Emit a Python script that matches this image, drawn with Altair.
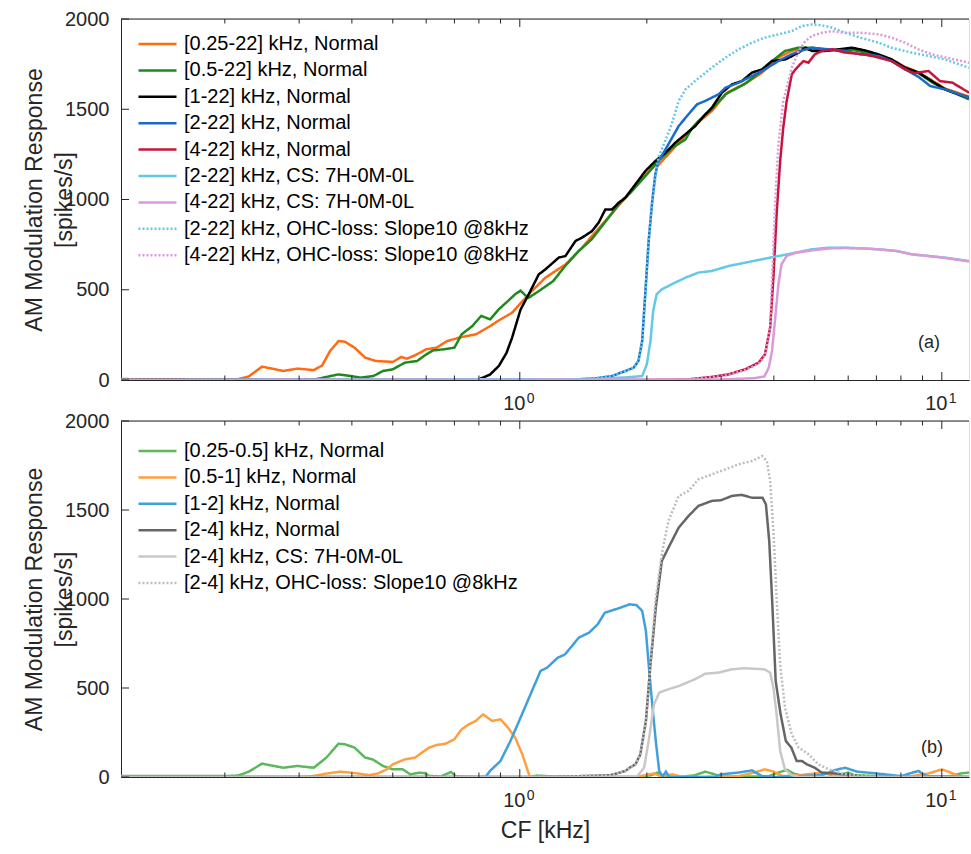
import altair as alt
import pandas as pd

FONT = "Liberation Sans"
TXT = "#262626"
X_DOMAIN = [0.1135, 11.6]
Y_DOMAIN = [0, 2000]
W = 848
H_A = 361
H_B = 356

# ---------------- Panel (a) ----------------
A_NAMES = [
    "[0.25-22] kHz, Normal",
    "[0.5-22] kHz, Normal",
    "[1-22] kHz, Normal",
    "[2-22] kHz, Normal",
    "[4-22] kHz, Normal",
    "[2-22] kHz, CS: 7H-0M-0L",
    "[4-22] kHz, CS: 7H-0M-0L",
    "[2-22] kHz, OHC-loss: Slope10 @8kHz",
    "[4-22] kHz, OHC-loss: Slope10 @8kHz",
]
A_COLORS = ["#FF6A13", "#1E8A1E", "#000000", "#1B6AC9", "#C8143C",
            "#62C9E6", "#DA9ADA", "#62C9E6", "#DA9ADA"]
A_WIDTHS = [2.5, 2.5, 2.5, 2.5, 2.5, 1.1, 1.1, 1.8, 1.8]
A_DASHES = [[1, 0]] * 7 + [[2, 2], [2, 2]]

a_orange_cf = [0.1135, 0.15, 0.2, 0.215, 0.228, 0.245, 0.26, 0.275, 0.297, 0.325, 0.34, 0.355, 0.372, 0.385,
               0.406, 0.43, 0.456, 0.484, 0.5, 0.523, 0.54, 0.565, 0.6, 0.635, 0.673, 0.728, 0.787, 0.851,
               0.892, 0.959, 1.05, 1.15, 1.283, 1.405, 1.483, 1.62, 1.779, 1.91, 2.095, 2.13, 2.34, 2.61,
               2.85, 3.1, 3.45, 3.75, 4.1, 4.4, 4.58, 4.92, 5.3, 5.7, 6.12, 6.58, 7.08, 7.61, 8.18, 8.81,
               9.47, 10.18, 10.95, 11.6]
a_orange_v = [5, 4, 3, 5, 20, 74, 62, 50, 63, 55, 80, 160, 216, 212,
              179, 124, 105, 102, 100, 127, 118, 137, 170, 179, 216, 238, 253, 299,
              330, 373, 475, 567, 640, 733, 798, 899, 1010, 1093, 1195, 1190, 1296, 1416,
              1490, 1592, 1647, 1703, 1786, 1823, 1832, 1830, 1825, 1830, 1835, 1820, 1800, 1775, 1735, 1705,
              1660, 1615, 1590, 1570]

a_green_cf = [0.1135, 0.3, 0.33, 0.348, 0.372, 0.39, 0.42, 0.45, 0.474, 0.5, 0.534, 0.571, 0.6, 0.623, 0.66,
              0.7, 0.728, 0.772, 0.81, 0.851, 0.892, 0.938, 0.975, 1.004, 1.03, 1.05, 1.11, 1.2, 1.28, 1.38,
              1.48, 1.6, 1.715, 1.83, 1.985, 2.13, 2.3, 2.47, 2.55, 2.65, 2.85, 3.07, 3.4, 3.75, 3.96, 4.25,
              4.58, 4.92, 5.3, 5.7, 6.12, 6.58, 7.08, 7.61, 8.18, 8.81, 9.47, 10.18, 10.95, 11.6]
a_green_v = [0, 0, 5, 17, 31, 25, 13, 22, 50, 59, 96, 105, 142, 164, 170,
             179, 253, 299, 355, 336, 392, 438, 475, 495, 470, 456, 493, 548, 631, 715,
             779, 881, 973, 1038, 1130, 1213, 1287, 1333, 1389, 1435, 1500, 1583, 1638, 1712, 1767, 1823,
             1841, 1841, 1830, 1825, 1830, 1815, 1795, 1770, 1730, 1700, 1650, 1610, 1580, 1555]

a_black_cf = [0.1135, 0.78, 0.80, 0.85, 0.892, 0.93, 0.959, 1.004, 1.05, 1.109, 1.15, 1.237, 1.283, 1.355,
              1.405, 1.483, 1.538, 1.595, 1.654, 1.715, 1.779, 1.879, 1.985, 2.095, 2.213, 2.337, 2.467,
              2.606, 2.752, 2.853, 3.013, 3.184, 3.36, 3.55, 3.75, 3.958, 4.256, 4.576, 4.747, 4.922, 5.294,
              5.69, 6.12, 6.58, 7.08, 7.61, 8.18, 8.81, 9.47, 10.18, 10.95, 11.6]
a_black_v = [0, 0, 4, 30, 78, 150, 235, 390, 475, 585, 613, 678, 687, 770,
             789, 825, 872, 945, 945, 982, 1010, 1084, 1158, 1213, 1259, 1315, 1361,
             1407, 1472, 1509, 1592, 1638, 1656, 1703, 1721, 1767, 1776, 1813, 1841, 1823, 1823,
             1832, 1841, 1826, 1804, 1776, 1730, 1703, 1656, 1610, 1583, 1564]

a_blue_cf = [0.1135, 1.3, 1.51, 1.654, 1.779, 1.86, 1.91, 1.95, 1.985, 2.02, 2.06, 2.095, 2.13, 2.18, 2.25,
             2.38, 2.51, 2.63, 2.75, 2.85, 2.96, 3.07, 3.3, 3.55, 3.81, 4.1, 4.4, 4.66, 4.92, 5.4, 5.9, 6.4,
             7.08, 7.6, 8.2, 8.8, 9.4, 10.18, 11.6]
a_blue_v = [0, 0, 9, 22, 50, 68, 105, 216, 493, 770, 992, 1139, 1213, 1250, 1306,
            1407, 1472, 1527, 1546, 1564, 1583, 1619, 1647, 1684, 1721, 1767, 1804, 1826, 1841, 1832, 1823, 1804,
            1795, 1767, 1721, 1680, 1628, 1610, 1564]

a_red_cf = [0.1135, 2.0, 2.5, 2.85, 3.12, 3.42, 3.68, 3.81, 3.92, 3.99, 4.06, 4.14, 4.21, 4.29, 4.41, 4.5,
            4.58, 4.7, 4.83, 5.0, 5.2, 5.5, 5.9, 6.58, 7.08, 7.6, 8.18, 8.6, 9.3, 9.9, 10.6, 11.6]
a_red_v = [0, 0, 3, 17, 31, 59, 96, 142, 290, 567, 918, 1213, 1398, 1546, 1693, 1721,
           1740, 1767, 1758, 1804, 1823, 1832, 1814, 1804, 1786, 1767, 1721, 1700, 1712, 1656, 1647, 1592]

a_cs2_cf = [0.1135, 1.5, 1.8, 1.95, 2.0, 2.04, 2.07, 2.11, 2.17, 2.29, 2.47, 2.65, 2.85, 3.13, 3.42, 3.75,
            4.1, 4.5, 4.92, 5.4, 5.9, 6.5, 7.08, 7.8, 8.5, 9.3, 10.18, 11.6]
a_cs2_v = [0, 5, 15, 22, 87, 216, 382, 475, 502, 530, 567, 595, 604, 632, 650, 669,
           687, 705, 724, 733, 733, 729, 724, 715, 696, 687, 678, 659]

a_cs4_cf = [0.1135, 3.0, 3.6, 3.8, 3.89, 3.96, 4.03, 4.1, 4.17, 4.29, 4.5, 4.92, 5.4, 5.9, 6.5, 7.08, 7.8,
            8.5, 9.3, 10.18, 11.6]
a_cs4_v = [0, 3, 10, 20, 68, 161, 345, 530, 641, 687, 705, 718, 729, 731, 729, 724, 715,
           696, 687, 676, 657]

a_ohc2_cf = [0.1135, 1.3, 1.51, 1.654, 1.779, 1.86, 1.91, 1.95, 1.985, 2.02, 2.06, 2.13, 2.21, 2.29, 2.38,
             2.47, 2.6, 2.85, 3.07, 3.3, 3.55, 3.81, 4.1, 4.41, 4.66, 4.92, 5.2, 5.5, 5.9, 6.4, 7.08, 7.6,
             8.5, 9.3, 10.18, 11.6]
a_ohc2_v = [0, 0, 9, 22, 50, 68, 105, 216, 493, 770, 1000, 1232, 1324, 1416, 1546,
            1610, 1656, 1730, 1786, 1832, 1869, 1897, 1915, 1933, 1961, 1970, 1965, 1952, 1924, 1897, 1869, 1841,
            1813, 1795, 1776, 1730]

a_ohc4_cf = [0.1135, 2.0, 2.5, 2.85, 3.12, 3.42, 3.68, 3.81, 3.92, 3.96, 4.03, 4.1, 4.21, 4.41, 4.58, 4.75,
             4.92, 5.2, 5.5, 5.9, 6.4, 7.08, 7.6, 8.18, 8.8, 9.47, 11.6]
a_ohc4_v = [0, 0, 3, 15, 28, 55, 90, 135, 290, 560, 992, 1306, 1546, 1730, 1823, 1878,
            1906, 1924, 1933, 1924, 1924, 1915, 1897, 1869, 1832, 1804, 1758]

A_CF = [a_orange_cf, a_green_cf, a_black_cf, a_blue_cf, a_red_cf, a_cs2_cf, a_cs4_cf, a_ohc2_cf, a_ohc4_cf]
A_V = [a_orange_v, a_green_v, a_black_v, a_blue_v, a_red_v, a_cs2_v, a_cs4_v, a_ohc2_v, a_ohc4_v]

# ---------------- Panel (b) ----------------
B_NAMES = [
    "[0.25-0.5] kHz, Normal",
    "[0.5-1] kHz, Normal",
    "[1-2] kHz, Normal",
    "[2-4] kHz, Normal",
    "[2-4] kHz, CS: 7H-0M-0L",
    "[2-4] kHz, OHC-loss: Slope10 @8kHz",
]
B_COLORS = ["#5CB85C", "#FFA040", "#41A0DA", "#666666", "#C8C8C8", "#BDBDBD"]
B_WIDTHS = [2.5, 2.5, 2.5, 2.5, 1.1, 1.5]
B_DASHES = [[1, 0]] * 5 + [[2, 2]]

b_green_cf = [0.1135, 0.2, 0.215, 0.228, 0.245, 0.275, 0.297, 0.325, 0.348, 0.372, 0.385, 0.406, 0.43, 0.448,
              0.474, 0.5, 0.528, 0.55, 0.577, 0.595, 0.61, 0.65, 0.687, 0.707, 0.8, 1.05, 1.1, 1.2, 1.5, 1.9,
              2.05, 2.12, 2.2, 2.4, 2.6, 2.75, 2.85, 3.0, 3.6, 3.9, 4.1, 4.3, 4.45, 4.7, 5.0, 5.3, 5.6, 6.0,
              6.2, 7.0, 8.0, 10.5, 11.1, 11.6]
b_green_v = [5, 5, 8, 30, 75, 52, 62, 52, 109, 187, 184, 165, 109, 99,
             62, 43, 43, 15, 24, 22, 6, 3, 28, 3, 0, 0, 8, 3, 0, 3,
             10, 25, 5, 0, 10, 30, 20, 3, 3, 5, 25, 40, 20, 5, 15, 20, 5, 25,
             10, 5, 3, 5, 20, 25]

b_orange_cf = [0.1135, 0.3, 0.32, 0.348, 0.375, 0.4, 0.44, 0.46, 0.484, 0.5, 0.534, 0.565, 0.586, 0.61, 0.635,
               0.667, 0.7, 0.728, 0.757, 0.787, 0.818, 0.86, 0.9, 0.938, 0.975, 1.014, 1.054, 1.1, 1.9, 2.0,
               2.08, 2.15, 2.3, 2.4, 2.7, 3.3, 3.6, 3.8, 4.0, 4.2, 4.6, 5.0, 5.3, 5.6, 6.5, 7.5, 8.5, 9.3,
               10.0, 10.5, 11.0, 11.6]
b_orange_v = [0, 0, 3, 19, 30, 24, 11, 19, 43, 71, 99, 109, 137, 165, 180,
              187, 212, 268, 296, 315, 352, 315, 324, 277, 221, 127, 6, 0, 0, 12,
              20, 5, 15, 3, 0, 5, 25, 43, 30, 5, 10, 20, 25, 10, 3, 0, 5, 20,
              43, 25, 3, 0]

b_blue_cf = [0.1135, 0.8, 0.83, 0.85, 0.9, 0.95, 1.004, 1.06, 1.12, 1.16, 1.23, 1.28, 1.38, 1.46, 1.53, 1.59,
             1.64, 1.73, 1.82, 1.89, 1.95, 1.99, 2.02, 2.06, 2.1, 2.14, 2.18, 2.22, 2.26, 2.9, 3.0, 3.3, 3.55,
             3.75, 4.0, 5.2, 5.6, 5.9, 6.3, 7.0, 8.0, 8.8, 9.2, 11.6]
b_blue_v = [0, 0, 2, 34, 90, 202, 333, 464, 596, 614, 670, 689, 783, 811, 858, 923,
            933, 951, 970, 966, 933, 820, 633, 408, 202, 34, 3, 30, 0, 0, 15, 25, 37,
            5, 0, 10, 40, 52, 30, 20, 5, 34, 5, 0]

b_dgray_cf = [0.1135, 1.2, 1.4, 1.64, 1.78, 1.82, 1.88, 1.93, 1.99, 2.04, 2.1, 2.17, 2.25, 2.38, 2.51, 2.65,
              2.85, 3.0, 3.18, 3.35, 3.55, 3.76, 3.83, 3.9, 3.97, 4.04, 4.15, 4.27, 4.4, 4.53, 4.66, 4.79,
              5.0, 5.2, 5.6, 6.0, 6.5, 7.0, 11.6]
b_dgray_v = [0, 0, 5, 10, 34, 52, 71, 127, 315, 633, 951, 1213, 1288, 1401, 1466, 1523,
             1551, 1555, 1579, 1585, 1569, 1569, 1532, 1326, 951, 539, 352, 202, 165, 90, 90, 71,
             52, 24, 20, 11, 3, 0, 0]

b_lgray_cf = [0.1135, 1.5, 1.9, 1.97, 2.02, 2.08, 2.14, 2.25, 2.38, 2.6, 2.75, 2.95, 3.18, 3.4, 3.8, 3.92,
              3.99, 4.06, 4.14, 4.25, 4.41, 4.6, 11.6]
b_lgray_v = [0, 0, 5, 52, 202, 408, 474, 493, 511, 549, 580, 586, 605, 611, 605, 586,
             502, 352, 146, 43, 10, 0, 0]

b_dot_cf = [0.1135, 1.2, 1.4, 1.64, 1.78, 1.82, 1.88, 1.93, 1.99, 2.04, 2.1, 2.17, 2.25, 2.38, 2.51, 2.65,
            2.85, 3.07, 3.3, 3.55, 3.75, 3.85, 3.92, 3.99, 4.06, 4.14, 4.25, 4.41, 4.58, 4.84, 5.1, 5.4,
            5.9, 6.5, 7.0, 11.6]
b_dot_v = [0, 0, 5, 10, 34, 52, 71, 127, 315, 633, 1007, 1251, 1438, 1579, 1607, 1672,
           1700, 1728, 1757, 1775, 1803, 1775, 1663, 1382, 1007, 633, 390, 240, 165, 127, 71, 43,
           15, 3, 0, 0]

B_CF = [b_green_cf, b_orange_cf, b_blue_cf, b_dgray_cf, b_lgray_cf, b_dot_cf]
B_V = [b_green_v, b_orange_v, b_blue_v, b_dgray_v, b_lgray_v, b_dot_v]

# ---------------- ticks ----------------
MAJOR_TICKS = [1, 10]
MAJOR_EXP = ["0", "1"]
MINOR_TICKS = [0.2, 0.3, 0.4, 0.5, 0.6, 0.7, 0.8, 0.9, 2, 3, 4, 5, 6, 7, 8, 9]
Y_TICKS = [0, 500, 1000, 1500, 2000]


def make_df(names, cfs, vals):
    rows = []
    for n, c, v in zip(names, cfs, vals):
        for x, y in zip(c, v):
            rows.append({"series": n, "cf": x, "resp": y})
    return pd.DataFrame(rows)


LABEL_PAD = 13


def panel(df, names, colors, dashes, widths, h, tag, tag_x, tag_y, xtitle, legend_y):
    xscale = alt.Scale(type="log", domain=X_DOMAIN, nice=False)
    yscale = alt.Scale(domain=Y_DOMAIN, nice=False)
    leg = alt.Legend(
        orient="none", legendX=16, legendY=legend_y, padding=0, title=None,
        symbolType="stroke", symbolSize=1444, clipHeight=20, rowPadding=6.4,
        labelFontSize=20, labelFont=FONT, labelColor="#000000", labelOffset=6,
        labelLimit=600,
    )
    xaxis = alt.Axis(values=MAJOR_TICKS, labelExpr="'10'", ticks=False, tickSize=0, grid=False,
                     labelFontSize=20, labelPadding=LABEL_PAD, labelOffset=-6, labelFont=FONT,
                     labelColor=TXT, domainColor=TXT, title=xtitle, titleFontSize=23,
                     titleFontWeight="normal", titleFont=FONT, titleColor=TXT, titlePadding=9)
    yaxis = alt.Axis(values=Y_TICKS, format="d", ticks=False, tickSize=0, grid=False, labelFontSize=20,
                     labelPadding=12, labelFont=FONT, labelColor=TXT, domainColor=TXT,
                     title=["AM Modulation Response", "[spikes/s]"], titleFontSize=23,
                     titleFontWeight="normal", titleFont=FONT, titleColor=TXT,
                     titleLineHeight=30, titleBaseline="middle", titleX=-87, titleY=h / 2)

    X = alt.X("cf:Q", scale=xscale, axis=xaxis)
    Y = alt.Y("resp:Q", scale=yscale, axis=yaxis)

    lines = alt.Chart(df).mark_line(clip=True).encode(
        x=X,
        y=Y,
        color=alt.Color("series:N", scale=alt.Scale(domain=names, range=colors), legend=leg, sort=names),
        strokeDash=alt.StrokeDash("series:N", scale=alt.Scale(domain=names, range=dashes), legend=leg,
                                  sort=names),
        strokeWidth=alt.StrokeWidth("series:N", scale=alt.Scale(domain=names, range=widths), legend=leg,
                                    sort=names),
    )

    maj = pd.DataFrame({"cf": MAJOR_TICKS, "e": MAJOR_EXP})
    mnr = pd.DataFrame({"cf": MINOR_TICKS})
    yt = pd.DataFrame({"resp": Y_TICKS})

    def xt(d, y0, y1):
        return alt.Chart(d).mark_rule(color=TXT, strokeWidth=1).encode(
            x=X, y=alt.value(y0), y2=alt.value(y1))

    layers = [
        lines,
        xt(maj, h, h - 8), xt(mnr, h, h - 4.5), xt(maj, 0, 8), xt(mnr, 0, 4.5),
        alt.Chart(yt).mark_rule(color=TXT, strokeWidth=1).encode(
            y=Y, x=alt.value(0), x2=alt.value(8)),
        alt.Chart(maj.head(1)).mark_rule(color=TXT, strokeWidth=1).encode(
            x=alt.value(0), x2=alt.value(W), y=alt.value(0)),
        alt.Chart(maj).mark_text(font=FONT, fontSize=14, color=TXT, align="left", baseline="top",
                                 dx=7, dy=LABEL_PAD - 1).encode(
            x=X, y=alt.value(h), text="e:N"),
        alt.Chart(maj.head(1)).mark_text(font=FONT, fontSize=18, color=TXT, align="center",
                                         baseline="middle").encode(
            x=alt.value(tag_x), y=alt.value(tag_y), text=alt.value(tag)),
    ]
    return alt.layer(*layers).properties(width=W, height=h)


df_a = make_df(A_NAMES, A_CF, A_V)
df_b = make_df(B_NAMES, B_CF, B_V)

pa = panel(df_a, A_NAMES, A_COLORS, A_DASHES, A_WIDTHS, H_A, "(a)", 808, 324, None, 15)
pb = panel(df_b, B_NAMES, B_COLORS, B_DASHES, B_WIDTHS, H_B, "(b)", 811, 327, "CF [kHz]", 20)

chart = alt.vconcat(pa, pb, spacing=41, bounds="flush").resolve_scale(
    color="independent", strokeDash="independent", strokeWidth="independent"
).resolve_legend(
    color="independent", strokeDash="independent", strokeWidth="independent"
).properties(
    padding={"left": 22, "top": 8, "right": 0, "bottom": 0}
).configure_view(stroke=None).configure(background="white")

chart.save("out.html", embed_options={"renderer": "svg", "actions": False})
